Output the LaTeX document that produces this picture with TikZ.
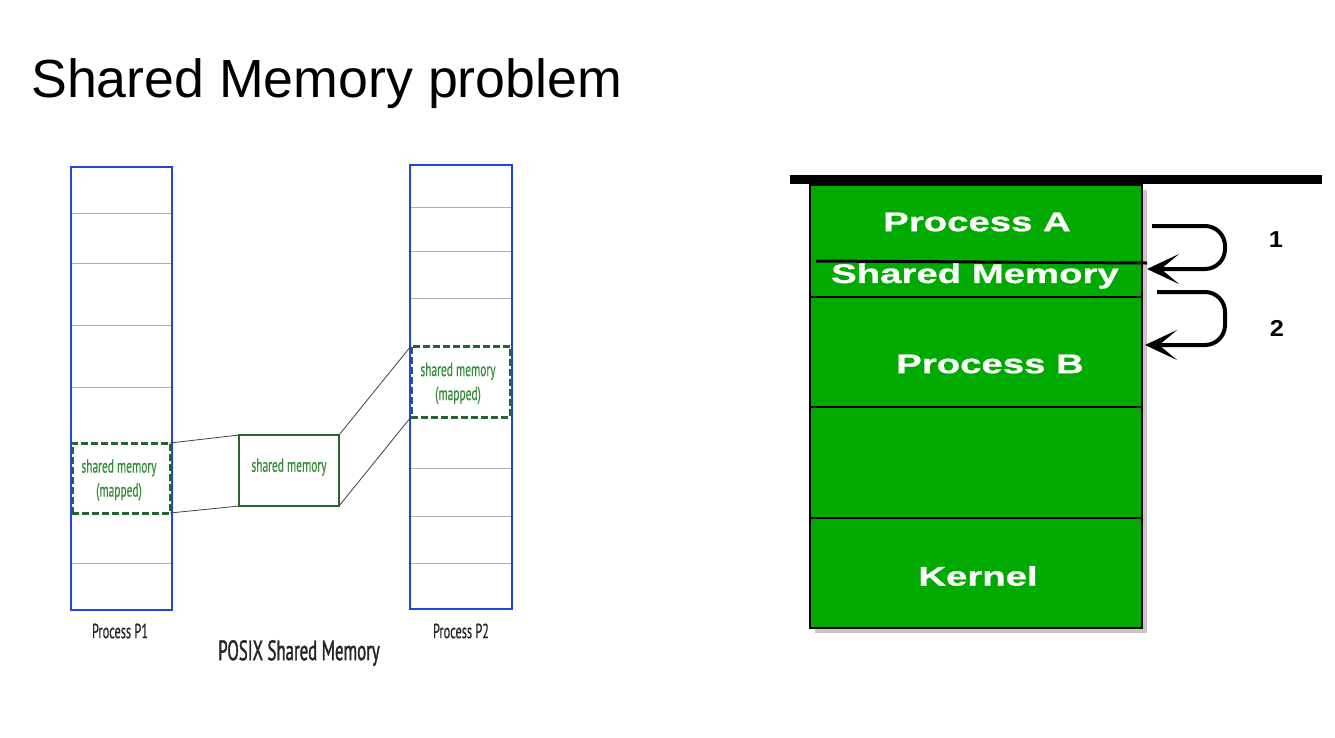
\documentclass[tikz,border=0pt]{standalone}
\usepackage{fontspec}
\setmainfont{Liberation Sans}
\newfontfamily\narrowfont[FakeStretch=0.6,FakeBold=0.5]{PT Sans}
\newfontfamily\narrowboldfont[FakeStretch=0.6,FakeBold=1.3]{PT Sans}
\newfontfamily\widefont[FakeStretch=1.42,FakeBold=0.8]{Liberation Sans Bold}
\newfontfamily\numfont[FakeStretch=1.1]{Liberation Sans Bold}
\usetikzlibrary{arrows.meta}

\definecolor{pblue}{RGB}{30,70,220}
\definecolor{dgreen}{RGB}{40,100,50}
\definecolor{lgreen}{RGB}{55,140,60}
\definecolor{memgreen}{RGB}{0,170,0}

\tikzset{
  procbox/.style={draw=pblue, line width=2.6pt, inner sep=0pt, outer sep=0pt},
  divider/.style={draw=black!32, line width=0.9pt},
  mappedbox/.style={draw=dgreen, dashed, dash pattern=on 7pt off 3pt, line width=3pt,
    inner sep=0pt, outer sep=0pt},
  shmbox/.style={draw=dgreen, line width=2.6pt, inner sep=0pt, outer sep=0pt},
  link/.style={draw=black!75, line width=0.8pt},
  smtext/.style={text=lgreen, font=\narrowfont\fontsize{19}{24}\selectfont, align=center},
  caption/.style={text=black!85, font=\narrowfont\fontsize{20.5}{22}\selectfont},
  layer/.style={draw=black, line width=1.6pt},
  whitetext/.style={text=white, font=\widefont\fontsize{27}{29}\selectfont},
  stepnum/.style={text=black, font=\numfont\fontsize{23}{25}\selectfont},
  jump/.style={draw=black, line width=4pt, rounded corners=20pt,
    -{Stealth[length=32pt,width=30pt,inset=18pt]}},
}

\begin{document}
\begin{tikzpicture}[x=1pt,y=-1pt]
\useasboundingbox (0,0) rectangle (1335,737);

% heading
\node[anchor=base west, inner sep=0pt, font=\fontsize{53.7}{60}\selectfont] (title) at (31,97) {Shared Memory problem};

% ---------- POSIX shared memory ----------
% row dividers inside the two address spaces
\foreach \y in {213,263,325,387,563} \draw[divider] (71,\y) -- (172,\y);
\foreach \y in {207,251,298,468,516,563} \draw[divider] (410,\y) -- (512,\y);

% mapped regions
\node[mappedbox, minimum width=98pt, minimum height=70pt] (map1) at (121,478) {};
\node[smtext] (map1t) at (119,480) {shared memory\\(mapped)};
\node[mappedbox, minimum width=99pt, minimum height=71pt] (map2) at (460.5,381.5) {};
\node[smtext] (map2t) at (458,383.5) {shared memory\\(mapped)};

% shared memory object
\node[shmbox, minimum width=100pt, minimum height=71pt] (shm) at (289,470.5) {};
\node[smtext] (shmt) at (289,467) {shared memory};

% process address spaces
\node[procbox, minimum width=101pt, minimum height=443pt] (p1) at (121.5,388.5) {};
\node[procbox, minimum width=102pt, minimum height=444pt] (p2) at (461,387) {};

% mapping lines
\draw[link] (map1.north east) -- (shm.north west);
\draw[link] (map1.south east) -- (shm.south west);
\draw[link] (shm.north east) -- (map2.north west);
\draw[link] (shm.south east) -- (map2.south west);

% captions
\node[caption] (c1) at (120,631) {Process P1};
\node[caption] (c2) at (461,631) {Process P2};
\node[caption, font=\narrowboldfont\fontsize{28}{30}\selectfont] (c3) at (299,653) {POSIX Shared Memory};

% ---------- memory layout ----------
\fill[black!22] (815,190) rectangle (1147,633);
\node[fill=memgreen, draw=black, line width=1.8pt, minimum width=332pt, minimum height=443pt,
  inner sep=0pt, outer sep=0pt] (mem) at (976,406.5) {};
\draw[layer] (810,297) -- (1142,297);
\draw[layer] (810,407) -- (1142,407);
\draw[layer] (810,518) -- (1142,518);
\draw[black, line width=3pt] (816,261) -- (1147,263);
\fill[black] (790,175) rectangle (1322,184);

\node[whitetext] (pa) at (977,222) {Process A};
\node[whitetext] (sm) at (975,276) {Shared Memory};
\node[whitetext] (pb) at (990,364) {Process B};
\node[whitetext] (kn) at (978,576) {Kernel};

% access steps
\coordinate (s1a) at (1152,226);
\coordinate (s1b) at (1147,269);
\coordinate (s2a) at (1157,292);
\coordinate (s2b) at (1145,345);
\draw[jump] (s1a) -| (1225,269) -- (s1b);
\draw[jump] (s2a) -| (1225,345) -- (s2b);
\node[stepnum] (n1) at (1276,240) {1};
\node[stepnum] (n2) at (1277,328) {2};
\end{tikzpicture}
\end{document}
